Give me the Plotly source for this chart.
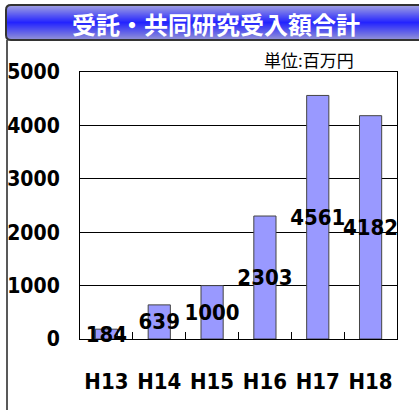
import plotly.graph_objects as go

# data
categories = ["H13", "H14", "H15", "H16", "H17", "H18"]
values = [184, 639, 1000, 2303, 4561, 4182]
y_ticks = [0, 1000, 2000, 3000, 4000, 5000]

title_text = "受託・共同研究受入額合計"
unit_text = "単位:百万円"

W, H = 419, 410
L, R, T, B = 80, 22, 72, 71
PW, PH = W - L - R, H - T - B

NARROW = "DejaVu Sans Condensed, Liberation Sans Narrow, sans-serif"


def px(x, y):
    # pixel coords (top-left origin) -> paper coords
    return (x - L) / PW, (H - B - y) / PH


def mix(c1, c2, t):
    return "rgb(%d,%d,%d)" % tuple(round(a + (b - a) * t) for a, b in zip(c1, c2))


fig = go.Figure(go.Bar(
    x=categories, y=values,
    text=[str(v) for v in values],
    textposition="inside", insidetextanchor="middle",
    constraintext="none", textangle=0, cliponaxis=False,
    textfont=dict(family=NARROW, size=22, weight="bold", color="black"),
    marker=dict(color="#9999FF", line=dict(color="#444444", width=1)),
))

# title banner with vertical gradient
shapes = []
bx0, bx1, by0, by1 = 6, 425, 5, 40
top_c, mid_c, bot_c = (160, 160, 225), (35, 35, 255), (145, 145, 215)
rad = 5
n = by1 - by0
for i in range(n):
    t = i / (n - 1)
    col = mix(top_c, mid_c, t / 0.5) if t < 0.5 else mix(mid_c, bot_c, (t - 0.5) / 0.5)
    yc = by0 + i + 0.5
    d = min(yc - by0, by1 - yc)
    inset = 0
    if d < rad:
        inset = rad - (rad ** 2 - (rad - d) ** 2) ** 0.5
    x0, y0 = px(bx0 + inset, by0 + i)
    x1, y1 = px(bx1, by0 + i + 1)
    shapes.append(dict(type="rect", xref="paper", yref="paper", layer="above",
                       x0=x0, x1=x1, y0=y1, y1=y0, fillcolor=col, line_width=0))

# banner outline with rounded left corners
p = [px(bx1, by0), px(bx0 + rad, by0), px(bx0, by0 + rad), px(bx0, by1 - rad),
     px(bx0 + rad, by1), px(bx1, by1)]
path = "M %f,%f L %f,%f Q %f,%f %f,%f L %f,%f Q %f,%f %f,%f L %f,%f" % (
    p[0][0], p[0][1], p[1][0], p[1][1], px(bx0, by0)[0], px(bx0, by0)[1], p[2][0], p[2][1],
    p[3][0], p[3][1], px(bx0, by1)[0], px(bx0, by1)[1], p[4][0], p[4][1], p[5][0], p[5][1])
shapes.append(dict(type="path", xref="paper", yref="paper", layer="above",
                   path=path, line=dict(color="#333333", width=2)))

# left panel border
lx0, ly0 = px(7, by1)
lx1, ly1 = px(7, H)
shapes.append(dict(type="line", xref="paper", yref="paper", x0=lx0, x1=lx1, y0=ly0, y1=ly1,
                   line=dict(color="#222222", width=1.5)))

tx, ty = px(216, 23)
ux, uy = px(309, 60)
annotations = [
    dict(text=title_text, xref="paper", yref="paper", x=tx, y=ty, showarrow=False,
         xanchor="center", yanchor="middle",
         font=dict(family="Noto Sans CJK JP", size=24, color="white", weight="bold")),
    dict(text=unit_text, xref="paper", yref="paper", x=ux, y=uy, showarrow=False,
         xanchor="center", yanchor="middle",
         font=dict(family="Noto Sans CJK JP", size=17, color="black")),
]

fig.update_layout(
    width=W, height=H,
    margin=dict(l=L, r=R, t=T, b=B, autoexpand=False),
    paper_bgcolor="white", plot_bgcolor="white",
    bargap=0.58, showlegend=False,
    shapes=shapes, annotations=annotations,
    xaxis=dict(
        showline=True, linecolor="black", linewidth=1, mirror=True,
        ticks="inside", tickson="boundaries", ticklen=7, tickcolor="black",
        ticklabelstandoff=23, showgrid=False, tickangle=0, automargin=False,
        tickfont=dict(family=NARROW, size=22, weight="bold", color="black"),
    ),
    yaxis=dict(
        range=[0, 5000], tickvals=y_ticks, automargin=False,
        showline=True, linecolor="black", linewidth=1, mirror=True,
        showgrid=True, gridcolor="black", gridwidth=1,
        zeroline=True, zerolinecolor="black", zerolinewidth=1,
        ticks="", ticklabelstandoff=15,
        tickfont=dict(family=NARROW, size=21, weight="bold", color="black"),
    ),
)

# page body has a default 8px margin; drop it so the figure sits at 0,0
fig.write_html("out.html", config={"displayModeBar": False},
               post_script="document.body.style.margin='0';")
